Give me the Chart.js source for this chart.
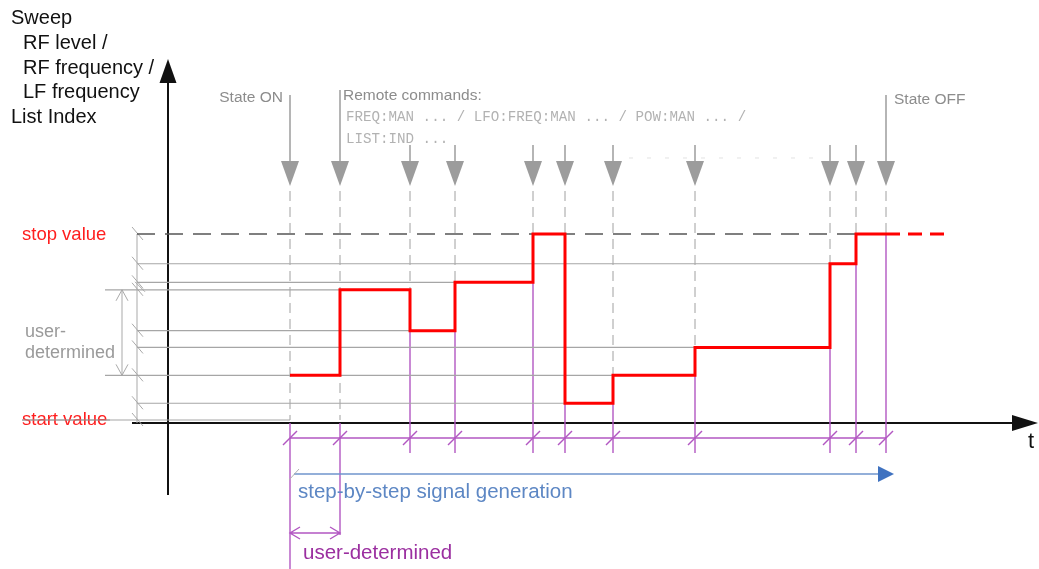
<!DOCTYPE html>
<html>
<head>
<meta charset="utf-8">
<script src="https://cdn.jsdelivr.net/npm/chart.js@4/dist/chart.umd.min.js"></script>
<style>
  body { margin: 0; background: #fff; }
</style>
</head>
<body>
<canvas id="chartSweep" width="1039" height="569"></canvas>
<script>
// switching instants (time units, y axis at t = 0)
const switchTimes = [12.2, 17.2, 24.2, 28.7, 36.5, 39.7, 44.5, 52.7, 66.2, 68.8, 71.8];
// value set at each instant, in % of the sweep span (start value = 0, stop value = 100)
const stepLevels = [24, 70, 48, 74, 100, 9, 24, 39, 84, 100, 100];
const holdUntil = 78.2;
const eventLabels = ['State ON', 'Remote commands:', '', '', '', '', '', '', '', '', 'State OFF'];
const refLevels = [100, 84, 74, 70, 48, 39, 24, 9, 0];
const userRange = [24, 70];
const startValue = 0;
const stopValue = 100;
const remoteCmds = ['FREQ:MAN ... / LFO:FREQ:MAN ... / POW:MAN ... /', 'LIST:IND ...'];
const axisTitle = [['Sweep', 0], ['RF level /', 1], ['RF frequency /', 1], ['LF frequency', 1], ['List Index', 0]];

// where the level guide lines begin on the left
const dimT = -3.1;
const userT = -6.3;
const startLineT = -14.6;

const last = switchTimes.length - 1;
const offIdx = last;

// signal points, value held until the next instant
const signal = switchTimes.map((t, i) => ({ x: t, y: stepLevels[i] }));
signal.push({ x: holdUntil, y: stepLevels[last] });

// thin guide lines for every level, running to where the signal last sits on it
const guides = [];
refLevels.forEach(v => {
  if (v === stopValue) return;
  let end = switchTimes[0];
  stepLevels.forEach((s, i) => { if (s === v && i < offIdx) end = switchTimes[i]; });
  if (v === 74) end = switchTimes[4];
  let from = dimT;
  if (v === startValue) from = startLineT;
  else if (v === userRange[0] || v === userRange[1]) from = userT;
  guides.push({ x: from, y: v }, { x: end, y: v }, { x: end, y: null });
});

let stopEnd = switchTimes[0];
stepLevels.forEach((s, i) => { if (s === stopValue && i < offIdx && i > 0 && stepLevels[i - 1] !== stopValue) stopEnd = switchTimes[i]; });
const stopLine = [{ x: dimT, y: stopValue }, { x: stopEnd, y: stopValue }];

function line(ctx, x1, y1, x2, y2) {
  ctx.beginPath();
  ctx.moveTo(x1, y1);
  ctx.lineTo(x2, y2);
  ctx.stroke();
}

function tri(ctx, pts) {
  ctx.beginPath();
  ctx.moveTo(pts[0], pts[1]);
  ctx.lineTo(pts[2], pts[3]);
  ctx.lineTo(pts[4], pts[5]);
  ctx.closePath();
  ctx.fill();
}

const sketch = {
  id: 'sketch',
  beforeDatasetsDraw(chart) {
    const ctx = chart.ctx;
    const X = v => chart.scales.x.getPixelForValue(v);
    const Y = v => chart.scales.y.getPixelForValue(v);
    const axisY = Y(startValue) + 3;
    const tipY = Y(stopValue) - 48;
    ctx.save();
    ctx.lineCap = 'butt';

    // axes
    ctx.strokeStyle = '#111';
    ctx.fillStyle = '#111';
    ctx.lineWidth = 2;
    line(ctx, X(0), Y(startValue) + 75, X(0), 80);
    tri(ctx, [X(0), 59, X(0) - 8.5, 83, X(0) + 8.5, 83]);
    line(ctx, X(0) - 36, axisY, 1014, axisY);
    tri(ctx, [1038, axisY, 1012, axisY - 8, 1012, axisY + 8]);

    // level dimension on the left
    ctx.strokeStyle = '#a9a9a9';
    ctx.lineWidth = 1;
    const dx = X(dimT);
    line(ctx, dx, Y(stopValue), dx, axisY);
    refLevels.forEach(v => line(ctx, dx - 5, Y(v) - 7, dx + 6, Y(v) + 6));
    line(ctx, dx - 2, Y(userRange[1]) - 8, dx + 8, Y(userRange[1]) + 2);
    const ux = X(userT) + 17;
    line(ctx, ux, Y(userRange[1]), ux, Y(userRange[0]));
    ctx.beginPath();
    ctx.moveTo(ux - 6, Y(userRange[1]) + 11); ctx.lineTo(ux, Y(userRange[1])); ctx.lineTo(ux + 6, Y(userRange[1]) + 11);
    ctx.moveTo(ux - 6, Y(userRange[0]) - 11); ctx.lineTo(ux, Y(userRange[0])); ctx.lineTo(ux + 6, Y(userRange[0]) - 11);
    ctx.stroke();

    // command markers
    ctx.strokeStyle = '#9c9c9c';
    ctx.fillStyle = '#9c9c9c';
    ctx.lineWidth = 1.5;
    switchTimes.forEach((t, i) => {
      const top = eventLabels[i] ? (i === 1 ? 90 : 95) : tipY - 41;
      line(ctx, X(t), top, X(t), tipY - 24);
      tri(ctx, [X(t), tipY, X(t) - 9, tipY - 25, X(t) + 9, tipY - 25]);
    });
    ctx.lineWidth = 1;
    ctx.strokeStyle = '#e2e2e2';
    ctx.setLineDash([4, 14]);
    line(ctx, X(switchTimes[6]) + 16, tipY - 28, X(switchTimes[8]) - 14, tipY - 28);

    ctx.strokeStyle = '#a0a0a0';
    ctx.setLineDash([10, 6]);
    switchTimes.forEach((t, i) => {
      const prev = i ? stepLevels[i - 1] : startValue;
      const top = i < 2 ? startValue : Math.max(prev, stepLevels[i]);
      line(ctx, X(t), tipY + 5, X(t), Y(top));
    });
    ctx.setLineDash([]);

    // step timing (purple)
    ctx.strokeStyle = '#b257c2';
    ctx.lineWidth = 1.4;
    switchTimes.forEach((t, i) => {
      const prev = i ? stepLevels[i - 1] : startValue;
      const low = i < 2 ? startValue : Math.min(prev, stepLevels[i]);
      const bottom = i === 0 ? chart.height : i === 1 ? axisY + 112 : axisY + 30;
      line(ctx, X(t), Y(low) + (i < 2 ? 3 : 0), X(t), bottom);
      line(ctx, X(t) - 7, axisY + 22, X(t) + 7, axisY + 8);
    });
    line(ctx, X(switchTimes[0]), axisY + 15, X(switchTimes[last]), axisY + 15);

    // user-determined step length
    const ax = X(switchTimes[0]), bx = X(switchTimes[1]), ay = axisY + 110;
    ctx.beginPath();
    ctx.moveTo(ax, ay); ctx.lineTo(bx, ay);
    ctx.moveTo(ax + 10, ay - 6); ctx.lineTo(ax, ay); ctx.lineTo(ax + 10, ay + 6);
    ctx.moveTo(bx - 10, ay - 6); ctx.lineTo(bx, ay); ctx.lineTo(bx - 10, ay + 6);
    ctx.stroke();

    // step-by-step arrow
    const by = axisY + 51;
    ctx.strokeStyle = '#6f94cc';
    ctx.fillStyle = '#3f72c0';
    ctx.lineWidth = 1.5;
    line(ctx, ax + 4, by, X(switchTimes[last]) - 6, by);
    tri(ctx, [X(switchTimes[last]) + 8, by, X(switchTimes[last]) - 8, by - 8, X(switchTimes[last]) - 8, by + 8]);
    ctx.strokeStyle = '#b0b0b0';
    ctx.lineWidth = 1;
    line(ctx, ax - 1, by + 6, ax + 9, by - 5);
    ctx.restore();
  },
  afterDatasetsDraw(chart) {
    const ctx = chart.ctx;
    const X = v => chart.scales.x.getPixelForValue(v);
    const Y = v => chart.scales.y.getPixelForValue(v);
    const axisY = Y(startValue) + 3;
    ctx.save();
    ctx.textBaseline = 'alphabetic';

    ctx.fillStyle = '#111';
    ctx.font = '20px "Liberation Sans", Arial, sans-serif';
    axisTitle.forEach((r, i) => ctx.fillText(r[0], 11 + r[1] * 12, 24 + i * 24.8));
    ctx.font = '22px "Liberation Sans", Arial, sans-serif';
    ctx.fillText('t', 1028, axisY + 25);

    ctx.fillStyle = '#ff1e1e';
    ctx.font = '18.5px "Liberation Sans", Arial, sans-serif';
    ctx.fillText('stop value', 22, Y(stopValue) + 6);
    ctx.fillText('start value', 22, Y(startValue) + 5);
    // strike of the start line through its label
    ctx.strokeStyle = '#9a9a9a';
    ctx.lineWidth = 1;
    line(ctx, 22, Y(startValue), 110, Y(startValue));

    ctx.fillStyle = '#9a9a9a';
    ctx.font = '18px "Liberation Sans", Arial, sans-serif';
    const mid = (Y(userRange[0]) + Y(userRange[1])) / 2;
    ctx.fillText('user-', 25, mid + 4);
    ctx.fillText('determined', 25, mid + 25);

    ctx.fillStyle = '#8c8c8c';
    ctx.font = '15.5px "Liberation Sans", Arial, sans-serif';
    ctx.textAlign = 'right';
    ctx.fillText(eventLabels[0], X(switchTimes[0]) - 7, 102);
    ctx.textAlign = 'left';
    ctx.font = '15.5px "Liberation Sans", Arial, sans-serif';
    ctx.fillText(eventLabels[1], X(switchTimes[1]) + 3, 100);
    ctx.font = '15.5px "Liberation Sans", Arial, sans-serif';
    ctx.fillText(eventLabels[offIdx], X(switchTimes[offIdx]) + 8, 104);

    ctx.fillStyle = '#b2b2b2';
    ctx.font = '14.2px "Liberation Mono", "Courier New", monospace';
    remoteCmds.forEach((s, i) => ctx.fillText(s, X(switchTimes[1]) + 6, 121 + i * 22));

    ctx.fillStyle = '#5d87c4';
    ctx.font = '20.5px "Liberation Sans", Arial, sans-serif';
    ctx.fillText('step-by-step signal generation', X(switchTimes[0]) + 8, axisY + 75);
    ctx.fillStyle = '#9b2fa0';
    ctx.fillText('user-determined', X(switchTimes[0]) + 13, axisY + 136);
    ctx.restore();
  }
};

new Chart(document.getElementById('chartSweep'), {
  type: 'line',
  data: {
    datasets: [{
      label: 'signal',
      data: signal,
      stepped: 'before',
      borderColor: '#ff0000',
      borderWidth: 3,
      segment: {
        borderDash: c => c.p0DataIndex === last ? [14, 8] : undefined
      }
    }, {
      label: 'stop value',
      data: stopLine,
      borderColor: '#555',
      borderWidth: 1.5,
      borderDash: [18, 10]
    }, {
      label: 'levels',
      data: guides,
      borderColor: '#a6a6a6',
      borderWidth: 1.2
    }]
  },
  options: {
    responsive: false,
    animation: false,
    events: [],
    layout: { padding: 0 },
    elements: { point: { radius: 0 } },
    plugins: { legend: { display: false }, tooltip: { enabled: false } },
    scales: {
      x: { type: 'linear', display: false, min: -16.8, max: 87.1 },
      y: { display: false, min: -80.1, max: 225.8 }
    }
  },
  plugins: [sketch]
});
</script>
</body>
</html>
